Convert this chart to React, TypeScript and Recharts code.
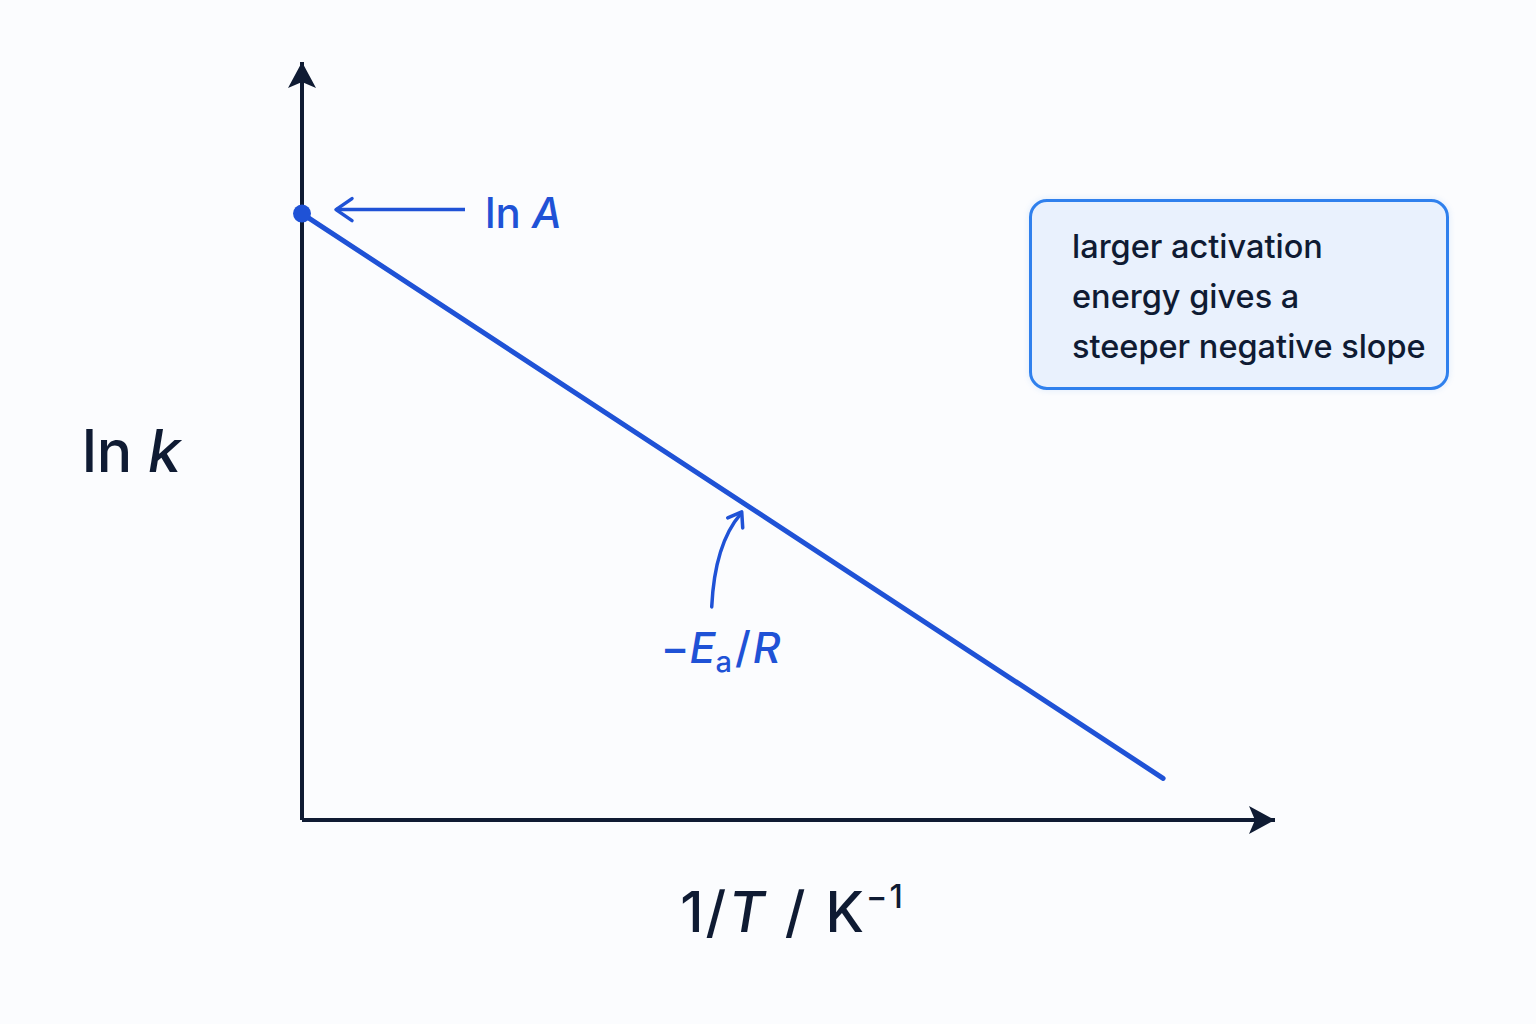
import { LineChart, Line, XAxis, YAxis, ReferenceDot, ReferenceLine } from 'recharts';

// axis range (arbitrary units, no ticks shown)
const xDomain = [0, 10];
const yDomain = [0, 10];

// straight Arrhenius line: intercept ln A at 1/T = 0
const lnA = 8.0;
const invT = [0, 8.85];
const lnK = [lnA, 0.55];

// point on the line where the slope label points
const slopeMark = { x: 4.55, y: 4.17 };

const noteLines = ['larger activation', 'energy gives a', 'steeper negative slope'];

const data = invT.map((x, i) => ({ x, y: lnK[i] }));

const NAVY = '#0f1b33';
const BLUE = '#1f52d6';
const FONT = 'Inter, "Noto Sans", sans-serif';

const UpArrow = ({ cx, cy }: any) => (
  <path d={`M${cx},${cy} L${cx + 14},${cy + 26} L${cx},${cy + 20} L${cx - 14},${cy + 26} Z`} fill={NAVY} />
);

const RightArrow = ({ cx, cy }: any) => (
  <path d={`M${cx},${cy} L${cx - 26},${cy - 14} L${cx - 20},${cy} L${cx - 26},${cy + 14} Z`} fill={NAVY} />
);

const InterceptNote = ({ cx, cy }: any) => (
  <g>
    <line x1={cx + 34} y1={cy - 4} x2={cx + 163} y2={cy - 4} stroke={BLUE} strokeWidth={3.5} />
    <polyline
      points={`${cx + 50},${cy - 15} ${cx + 34},${cy - 4} ${cx + 50},${cy + 7}`}
      fill="none"
      stroke={BLUE}
      strokeWidth={3.5}
      strokeLinecap="round"
      strokeLinejoin="round"
    />
    <text x={cx + 183} y={cy + 14} fill={BLUE} fontFamily={FONT} fontSize={42} fontWeight={500}>
      ln <tspan fontStyle="italic">A</tspan>
    </text>
  </g>
);

const SlopeNote = ({ cx, cy }: any) => (
  <g>
    <path
      d={`M${cx - 33},${cy + 103} Q${cx - 30},${cy + 40} ${cx - 4},${cy + 10}`}
      fill="none"
      stroke={BLUE}
      strokeWidth={3.5}
      strokeLinecap="round"
    />
    <polyline
      points={`${cx - 17},${cy + 14} ${cx - 3},${cy + 8} ${cx - 2},${cy + 24}`}
      fill="none"
      stroke={BLUE}
      strokeWidth={3.5}
      strokeLinecap="round"
      strokeLinejoin="round"
    />
    <text x={cx - 84} y={cy + 159} fill={BLUE} fontFamily={FONT} fontSize={43} fontWeight={500}>
      −<tspan fontStyle="italic">E</tspan>
      <tspan fontSize={29} dy={9}>a</tspan>
      <tspan dy={-9} dx={3}>/</tspan>
      <tspan fontStyle="italic" dx={2}>R</tspan>
    </text>
  </g>
);

const YTitle = ({ cx, cy }: any) => (
  <text x={cx - 220} y={cy + 31} fill={NAVY} fontFamily={FONT} fontSize={59} fontWeight={500}>
    ln <tspan fontStyle="italic">k</tspan>
  </text>
);

const XTitle = ({ cx, cy }: any) => (
  <text
    x={cx + 4}
    y={cy + 112}
    fill={NAVY}
    fontFamily={FONT}
    fontSize={56}
    fontWeight={500}
    letterSpacing={2}
    textAnchor="middle"
  >
    1/<tspan fontStyle="italic">T</tspan>
    <tspan dx={18}>/</tspan>
    <tspan dx={18}>K</tspan>
    <tspan fontSize={32} dy={-24}>−1</tspan>
  </text>
);

const InterceptDot = (props: any) => {
  const { cx, cy, index } = props;
  if (index !== 0) return <g key={index} />;
  return <circle key={index} cx={cx} cy={cy} r={9} fill={BLUE} />;
};

export default function App() {
  return (
    <div style={{ position: 'absolute', left: 0, top: 0, width: 1536, height: 1024, background: '#fbfcfe' }}>
      <LineChart width={1536} height={1024} data={data} margin={{ top: 62, right: 261, bottom: 204, left: 302 }}>
        <XAxis type="number" dataKey="x" domain={xDomain} hide />
        <YAxis type="number" domain={yDomain} hide />
        <ReferenceLine x={xDomain[0]} stroke={NAVY} strokeWidth={4} ifOverflow="visible" />
        <ReferenceLine y={yDomain[0]} stroke={NAVY} strokeWidth={4} ifOverflow="visible" />
        <Line
          type="linear"
          dataKey="y"
          stroke={BLUE}
          strokeWidth={5}
          strokeLinecap="round"
          dot={InterceptDot}
          activeDot={false}
          isAnimationActive={false}
        />
        <ReferenceDot x={xDomain[0]} y={yDomain[1]} ifOverflow="visible" shape={UpArrow} />
        <ReferenceDot x={xDomain[1]} y={yDomain[0]} ifOverflow="visible" shape={RightArrow} />
        <ReferenceDot x={invT[0]} y={lnA} ifOverflow="visible" shape={InterceptNote} />
        <ReferenceDot x={slopeMark.x} y={slopeMark.y} ifOverflow="visible" shape={SlopeNote} />
        <ReferenceDot x={xDomain[0]} y={5} ifOverflow="visible" shape={YTitle} />
        <ReferenceDot x={5} y={yDomain[0]} ifOverflow="visible" shape={XTitle} />
      </LineChart>
      <div
        style={{
          position: 'absolute',
          left: 1029,
          top: 199,
          width: 420,
          height: 191,
          boxSizing: 'border-box',
          border: '3.5px solid #2f80ed',
          borderRadius: 18,
          background: '#e9f1fd',
          padding: '20px 0 0 40px',
          fontFamily: FONT,
          fontSize: 32.5,
          fontWeight: 500,
          lineHeight: '50px',
          color: NAVY,
          boxShadow: '0 0 6px rgba(47,128,237,0.15)',
        }}
      >
        {noteLines.map(l => (
          <div key={l} style={{ whiteSpace: 'nowrap' }}>{l}</div>
        ))}
      </div>
    </div>
  );
}
